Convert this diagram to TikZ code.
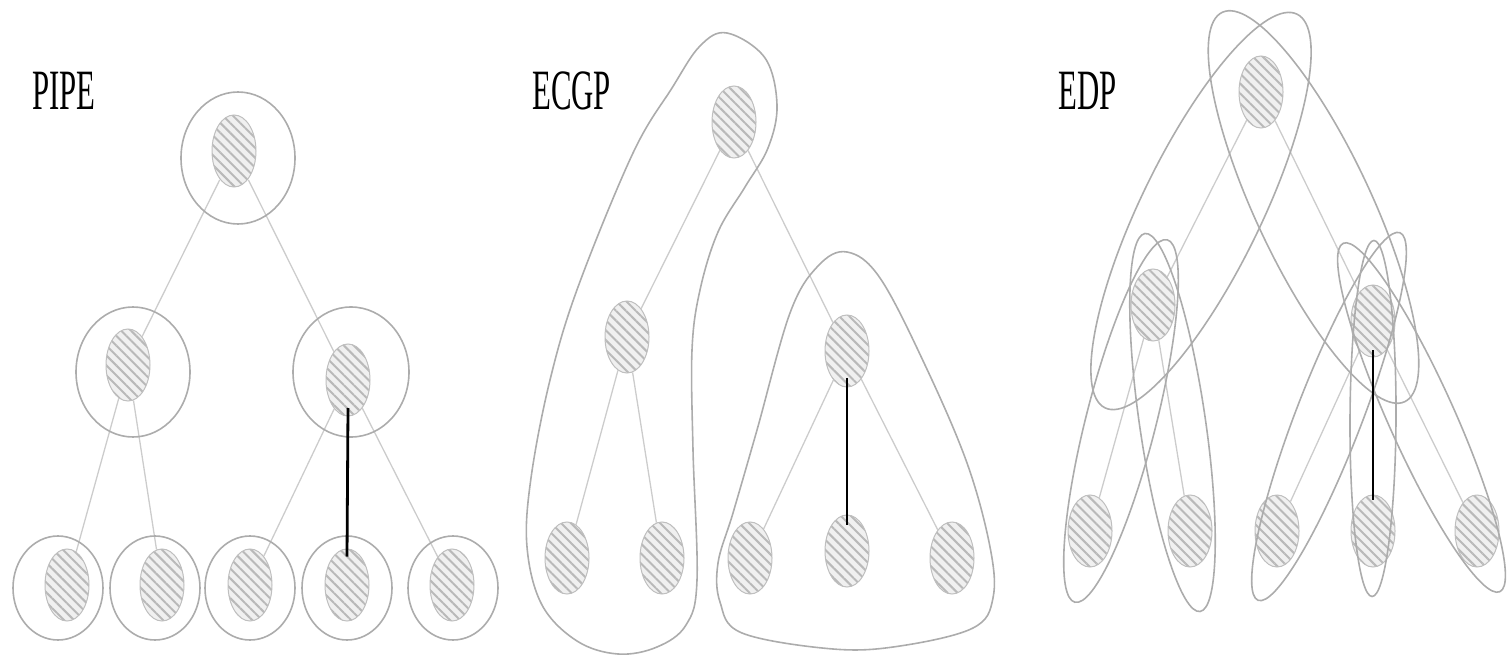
\documentclass[tikz,border=0pt]{standalone}
\usepackage{fontspec}
\setmainfont{Liberation Serif}
\usetikzlibrary{shapes.geometric,patterns.meta}

\begin{document}
\begin{tikzpicture}[
  x=1pt, y=-1pt,
  vtx/.style={ellipse, minimum width=44pt, minimum height=72pt, inner sep=0pt, draw=gray!50, line width=1pt,
    preaction={fill=gray!12}, pattern={Lines[angle=-45, distance=7pt, line width=2pt]}, pattern color=gray!55},
  tedge/.style={draw=gray!40, line width=1.3pt},
  ring/.style={draw=gray!65, line width=1.6pt},
  crit/.style={draw=black, line width=2.8pt},
  lbl/.style={anchor=base west, inner sep=0pt, font=\fontsize{57}{60}\selectfont}
]
\useasboundingbox (0,0) rectangle (1509,655);

% PIPE
\node[lbl] (tpipe) at (32,110) {\scalebox{0.54}[1]{PIPE}};
\node[vtx] (pr) at (234,151) {};
\node[vtx] (pa) at (128,365) {};
\node[vtx] (pb) at (348,380) {};
\node[vtx] (p1) at (67,585) {};
\node[vtx] (p2) at (162,585) {};
\node[vtx] (p3) at (250,585) {};
\node[vtx] (p4) at (347,585) {};
\node[vtx] (p5) at (452,585) {};
\foreach \a/\b in {pr/pa,pr/pb,pa/p1,pa/p2,pb/p3,pb/p5} {\draw[tedge] (\a) -- (\b);}
\draw[ring] (238,158) ellipse [x radius=57pt, y radius=66pt];
\draw[ring] (133,372) ellipse [x radius=57pt, y radius=65pt];
\draw[ring] (351,372) ellipse [x radius=58pt, y radius=65pt];
\foreach \x in {58,155,250,347,453} {\draw[ring] (\x,588) ellipse [x radius=45pt, y radius=52pt];}
\draw[crit] ([yshift=-28pt]pb.center) -- ([yshift=-8pt]p4.north);

% ECGP
\node[lbl] (tecgp) at (532,110) {\scalebox{0.54}[1]{ECGP}};
\node[vtx] (cr) at (734,122) {};
\node[vtx] (ca) at (627,337) {};
\node[vtx] (cb) at (847,351) {};
\node[vtx] (c1) at (567,558) {};
\node[vtx] (c2) at (662,558) {};
\node[vtx] (c3) at (750,558) {};
\node[vtx] (c4) at (847,551) {};
\node[vtx] (c5) at (952,558) {};
\foreach \a/\b in {cr/ca,cr/cb,ca/c1,ca/c2,cb/c3,cb/c5} {\draw[tedge] (\a) -- (\b);}
\draw[ring] plot[smooth cycle, tension=0.6] coordinates {(727,33) (765,58) (777,105) (768,148) (745,187) (718,232)
  (700,290) (692,350) (693,450) (697,580) (686,625) (657,647) (618,654) (577,641) (542,605) (527,547)
  (531,478) (550,380) (578,287) (633,153) (672,88) (700,46)};
\draw[ring] plot[smooth cycle, tension=0.6] coordinates {(847,252) (880,278) (925,365) (967,463) (990,547)
  (993,598) (973,628) (900,646) (833,649) (742,633) (720,602) (718,563) (733,513) (757,430) (790,313) (818,266)};
\draw[crit] ([yshift=-27pt]cb.center) -- ([yshift=-10pt]c4.north);

% EDP
\node[lbl] (tedp) at (1058,110) {\scalebox{0.54}[1]{EDP}};
\node[vtx] (er) at (1261,92) {};
\node[vtx] (ea) at (1153,305) {};
\node[vtx] (eb) at (1373,321) {};
\node[vtx] (e1) at (1090,531) {};
\node[vtx] (e2) at (1190,531) {};
\node[vtx] (e3) at (1277,531) {};
\node[vtx] (e4) at (1373,531) {};
\node[vtx] (e5) at (1477,531) {};
\foreach \a/\b in {er/ea,er/eb,ea/e1,ea/e2,eb/e3,eb/e5} {\draw[tedge] (\a) -- (\b);}
\draw[ring] (1201,211) ellipse [x radius=219pt, y radius=60pt, rotate=64];
\draw[ring] (1313.5,207) ellipse [x radius=215pt, y radius=58pt, rotate=-64.9];
\draw[ring] (1121,421) ellipse [x radius=187pt, y radius=35pt, rotate=75.7];
\draw[ring] (1172.5,422.5) ellipse [x radius=191pt, y radius=33pt, rotate=-81.7];
\draw[ring] (1329,416.5) ellipse [x radius=197pt, y radius=33pt, rotate=68.9];
\draw[ring] (1373,418.5) ellipse [x radius=178pt, y radius=23pt, rotate=89.7];
\draw[ring] (1421.5,417.5) ellipse [x radius=191pt, y radius=33pt, rotate=-65.8];
\draw[crit] ([yshift=-29pt]eb.center) -- ([yshift=-5pt]e4.north);
\end{tikzpicture}
\end{document}
